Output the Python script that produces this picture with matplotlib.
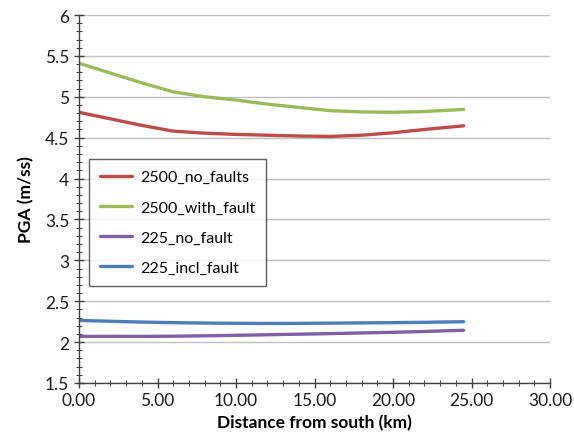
import numpy as np
import matplotlib
matplotlib.use('Agg')
import matplotlib.pyplot as plt
from matplotlib.ticker import MultipleLocator, FormatStrFormatter

plt.rcParams['font.family'] = ['Lato', 'DejaVu Sans']

dist_km = [0, 2, 4, 6, 8, 10, 12, 14, 16, 18, 20, 22, 24.5]
pga_2500_no_faults = [4.81, 4.73, 4.65, 4.58, 4.555, 4.54, 4.53, 4.52, 4.515, 4.53, 4.56, 4.60, 4.645]
pga_2500_with_fault = [5.41, 5.29, 5.17, 5.06, 5.00, 4.96, 4.91, 4.87, 4.83, 4.815, 4.81, 4.82, 4.845]
pga_225_no_fault = [2.07, 2.07, 2.07, 2.072, 2.077, 2.083, 2.09, 2.097, 2.104, 2.112, 2.12, 2.13, 2.145]
pga_225_incl_fault = [2.265, 2.255, 2.245, 2.238, 2.233, 2.23, 2.228, 2.229, 2.232, 2.235, 2.238, 2.242, 2.25]

series = [
    ('2500_no_faults', pga_2500_no_faults, '#BE4B48'),
    ('2500_with_fault', pga_2500_with_fault, '#9BBB59'),
    ('225_no_fault', pga_225_no_fault, '#7F5FA5'),
    ('225_incl_fault', pga_225_incl_fault, '#4A7EBB'),
]

fig = plt.figure(figsize=(5.74, 4.35), dpi=100)
ax = fig.add_axes([79/574, 1-384/435, 471/574, 368/435])

for name, vals, col in series:
    ax.plot(dist_km, vals, color=col, lw=2.4, label=name, solid_capstyle='round')

ax.set_xlim(0, 30)
ax.set_ylim(1.5, 6)
ax.xaxis.set_major_locator(MultipleLocator(5))
ax.xaxis.set_minor_locator(MultipleLocator(1))
ax.yaxis.set_major_locator(MultipleLocator(0.5))
ax.yaxis.set_minor_locator(MultipleLocator(0.1))
ax.xaxis.set_major_formatter(FormatStrFormatter('%.2f'))
ax.yaxis.set_major_formatter(matplotlib.ticker.FuncFormatter(lambda v, p: ('%g' % v)))

ax.grid(axis='y', which='major', color='#BFBFBF', lw=1)
ax.set_axisbelow(True)
for s in ['top', 'right']:
    ax.spines[s].set_visible(False)
for s in ['left', 'bottom']:
    ax.spines[s].set_color('#404040')
    ax.spines[s].set_linewidth(1)

ax.tick_params(axis='both', which='major', direction='inout', length=7, width=1,
               color='#404040', labelsize=12.5, labelcolor='#1a1a1a')
ax.tick_params(axis='both', which='minor', direction='inout', length=4, width=0.8,
               color='#404040')
ax.tick_params(axis='x', pad=3)

ax.set_xlabel('Distance from south (km)', fontsize=12.5, fontweight='bold', labelpad=4)
ax.set_ylabel('PGA (m/ss)', fontsize=12.5, fontweight='bold', labelpad=8)

leg = ax.legend(loc='upper left', bbox_to_anchor=(0.021, 0.609), fontsize=11.5,
                frameon=True, fancybox=False, edgecolor='#333333', handlelength=2.0,
                labelspacing=1.0, borderpad=0.7, handletextpad=0.5, borderaxespad=0)
leg.get_frame().set_linewidth(1)

fig.savefig('out.png', dpi=100)
